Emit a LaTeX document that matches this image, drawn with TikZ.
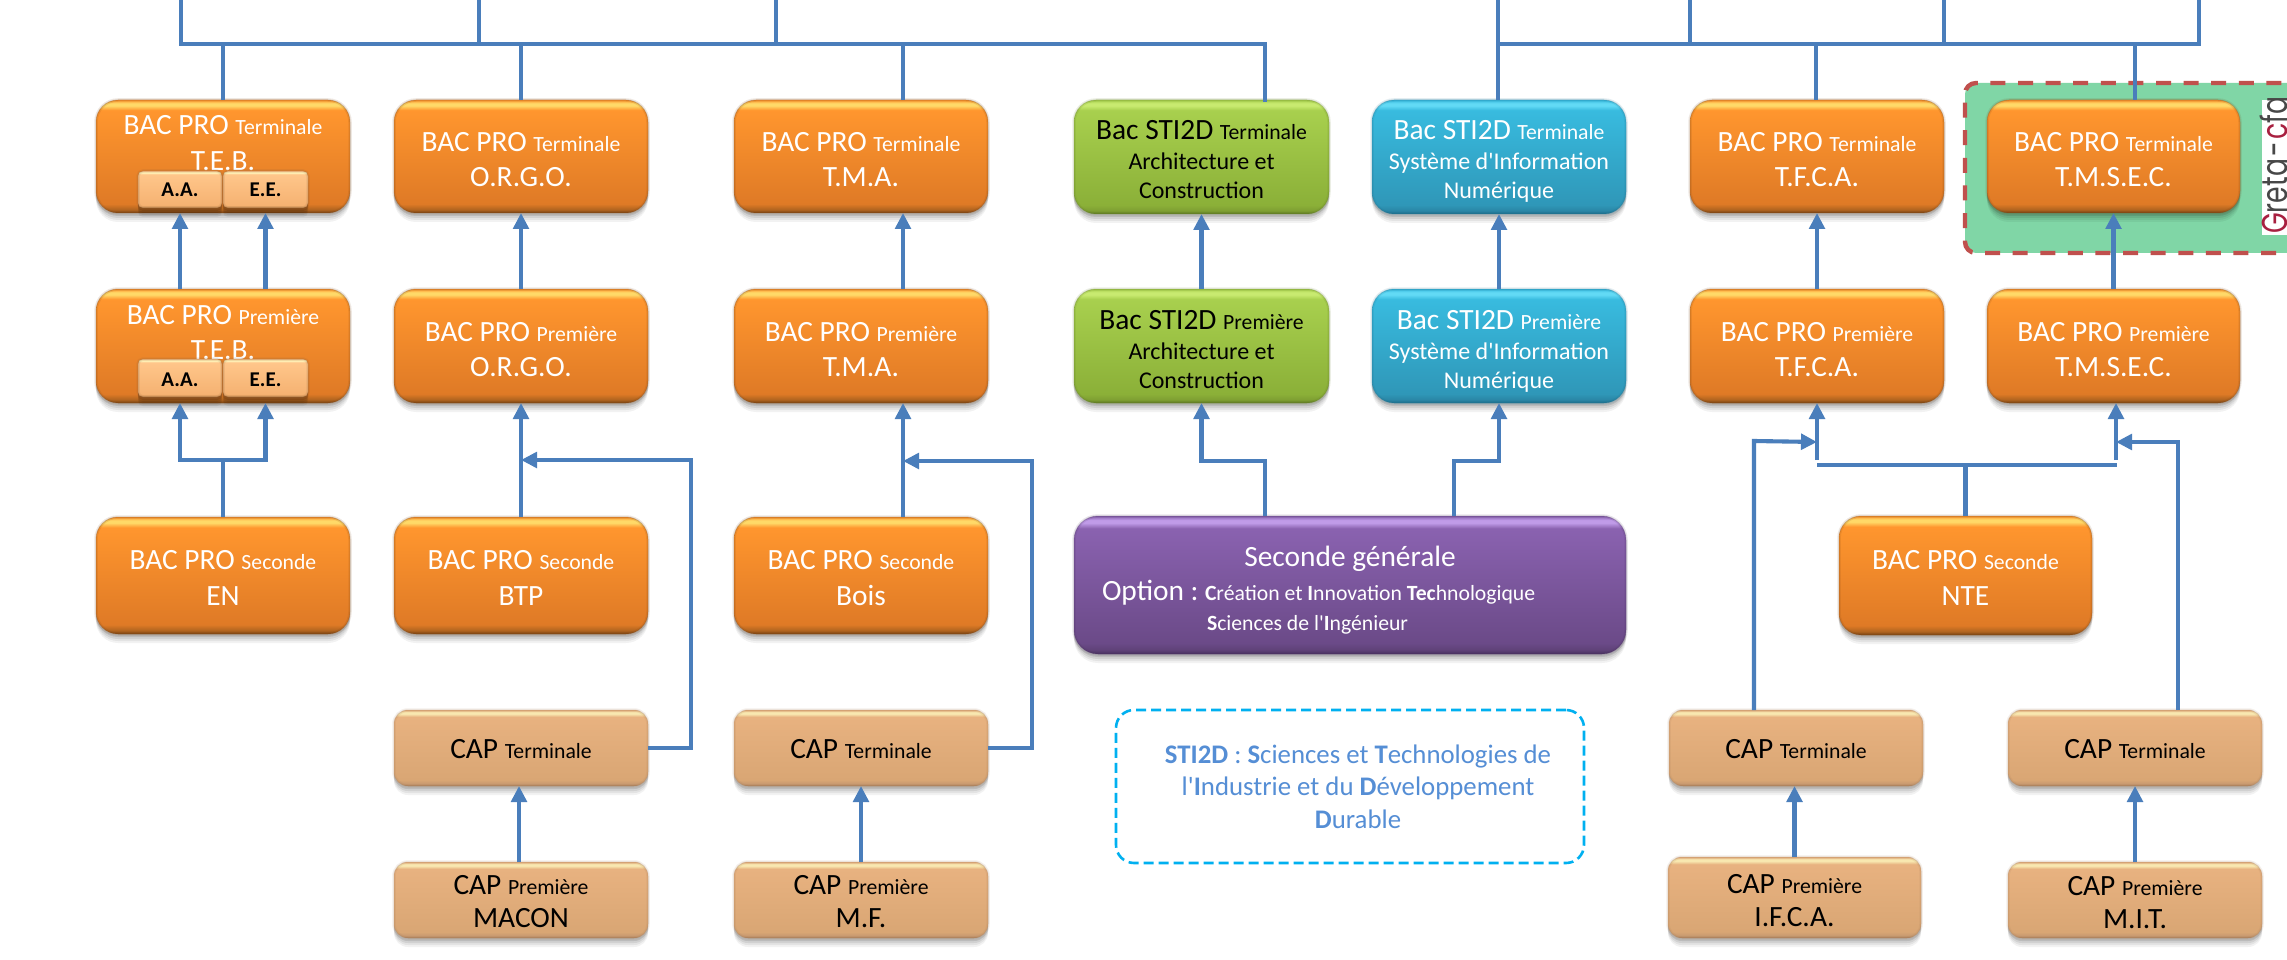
\documentclass[tikz,border=0pt]{standalone}
\usepackage{fontspec}
\setmainfont{Carlito}[Ligatures=TeXOff]
\newfontfamily\logofont{Poppins}
\usetikzlibrary{arrows.meta,calc}
\definecolor{lineblue}{HTML}{4A7EBB}
\definecolor{dashred}{HTML}{C0504D}
\definecolor{panel}{HTML}{80D6A6}
\definecolor{cyandash}{HTML}{00B0F0}
\definecolor{noteblue}{HTML}{558ED5}
\definecolor{logored}{HTML}{A82040}
\newcommand\mkshade[6]{%
 \definecolor{#1a}{HTML}{#2}\definecolor{#1b}{HTML}{#3}\definecolor{#1c}{HTML}{#4}\definecolor{#1d}{HTML}{#5}\definecolor{#1e}{HTML}{#6}%
 \pgfdeclareverticalshading{#1}{100bp}{color(0bp)=(#1a);color(25bp)=(#1a);color(26.5bp)=(#1b);color(29bp)=(#1c);color(70.5bp)=(#1d);color(72.5bp)=(#1e);color(73.5bp)=(#1e);color(75bp)=(#1d);color(100bp)=(#1d)}}
\mkshade{orangeb}{7A4414}{B0641F}{DF7A26}{FF962E}{FFD968}
\mkshade{greenb}{5F7A24}{7F9F32}{8BB038}{A8D04E}{C8EA70}
\mkshade{blueb}{1F6F8C}{2A86A6}{2F97B8}{38BBDF}{62DAF5}
\mkshade{purpleb}{4A3260}{5F4278}{6B4A88}{8A62B0}{C09BE8}
\mkshade{peachb}{A57C58}{C89A70}{D9A674}{E8B280}{F8E8B0}
\mkshade{tabb}{8A5F38}{E0A060}{F5B272}{FFC68A}{FFF2B8}
\tikzset{
 softshadow/.style={
  preaction={fill=black,fill opacity=.05,transform canvas={yshift=-9pt}},
  preaction={fill=black,fill opacity=.06,transform canvas={yshift=-7pt}},
  preaction={fill=black,fill opacity=.08,transform canvas={yshift=-5pt}},
  preaction={fill=black,fill opacity=.10,transform canvas={yshift=-3pt}}},
 basebox/.style={softshadow,anchor=north west,inner sep=0pt,outer sep=0pt,rectangle,line width=1pt,draw opacity=.28},
 rim/.style={postaction={draw=#1,draw opacity=.12,line width=3.5pt}},
 orangebox/.style={basebox,rounded corners=22pt,shading=orangeb,draw=orangeba,rim=orangeba},
 greenbox/.style={basebox,rounded corners=22pt,shading=greenb,draw=greenba,rim=greenba},
 bluebox/.style={basebox,rounded corners=22pt,shading=blueb,draw=blueba,rim=blueba},
 purplebox/.style={basebox,rounded corners=24pt,shading=purpleb,draw=purpleba,rim=purpleba},
 capbox/.style={basebox,rounded corners=14pt,shading=peachb,draw=peachba,rim=peachba},
 tabbox/.style={basebox,rounded corners=5pt,shading=tabb,draw=tabba,rim=tabba},
 notebox/.style={anchor=north west,inner sep=0pt,outer sep=0pt,rectangle,rounded corners=18pt,draw=cyandash,line width=2.6pt,dash pattern=on 10pt off 5pt},
 panelbox/.style={anchor=north west,inner sep=0pt,outer sep=0pt,rectangle,rounded corners=11pt,fill=panel,draw=dashred,line width=4.4pt,dash pattern=on 15pt off 12.6pt},
 cx/.style={draw=lineblue,line width=4.1pt},
 arr/.style={cx,-{Triangle[length=16pt,width=15.5pt]}},
}
\newcommand\Bg{\fontsize{29.4}{31}\selectfont}
\newcommand\Sm{\fontsize{21.7}{24}\selectfont}
\newcommand\Md{\fontsize{24}{26}\selectfont}
\newcommand\Op{\fontsize{21.7}{24}\selectfont}
\newcommand\Nt{\fontsize{26.8}{29}\selectfont}
\newcommand\Lin[2]{\kern#1pt\hbox to \Wd pt{\hss\smash{#2}\hss}}
\newcommand\LinL[3]{\kern#1pt\hbox to \Wd pt{\kern#2pt\smash{#3}\hss}}
\newcommand\bx[8]{%
 \pgfmathsetmacro\Wd{#4-#2}\pgfmathsetmacro\Ht{#5-#3}%
 \node[#6,text=#7] (#1) at (#2,#3) {\vbox to \Ht pt{\hsize=\Wd pt\offinterlineskip\hbox to \Wd pt{}#8\vss}};}
\newcommand\TwoL[5]{\kern1.5pt\Lin{#1}{\Bg #3 \Sm #4}\Lin{#2}{\Bg #5}}
\begin{document}
\begin{tikzpicture}[x=1pt,y=-1pt]
\useasboundingbox (0,0) rectangle (2287,960);
\fill[white] (0,0) rectangle (2287,960);
\begin{scope}
\clip (0,0) rectangle (2287,960);
\bx{panel}{1965}{83}{2320}{253}{panelbox}{black}{}
\fill[white] (2262,100) rectangle (2287,235);
\node[rotate=90,anchor=base west,inner sep=0pt,text=black!72] (logo) at (2287.5,234) {\logofont\fontsize{36}{36}\selectfont\scalebox{.74}[1]{\textcolor{logored}{G}reta\kern3pt-\kern3pt\textcolor{logored}{c}fa}};
\end{scope}
% BAC PRO columns
\bx{tebT}{96}{100}{350}{213}{orangebox}{white}{\TwoL{33}{36}{BAC PRO}{Terminale}{T.E.B.}}
\bx{tebP}{96}{289}{350}{403}{orangebox}{white}{\TwoL{34}{35}{BAC PRO}{Première}{T.E.B.}}
\bx{aaT}{138}{171}{222}{208}{tabbox}{black}{\Lin{26}{\fontsize{21}{23}\selectfont\bfseries A.A.}}
\bx{eeT}{223}{171}{308}{208}{tabbox}{black}{\Lin{26}{\fontsize{21}{23}\selectfont\bfseries E.E.}}
\bx{aaP}{138}{359}{222}{397}{tabbox}{black}{\Lin{27}{\fontsize{21}{23}\selectfont\bfseries A.A.}}
\bx{eeP}{223}{359}{308}{397}{tabbox}{black}{\Lin{27}{\fontsize{21}{23}\selectfont\bfseries E.E.}}
\bx{enS}{96}{517}{350}{634}{orangebox}{white}{\TwoL{51}{36}{BAC PRO}{Seconde}{EN}}
\bx{orgoT}{394}{100}{648}{213}{orangebox}{white}{\TwoL{50}{35}{BAC PRO}{Terminale}{O.R.G.O.}}
\bx{orgoP}{394}{289}{648}{403}{orangebox}{white}{\TwoL{51}{35}{BAC PRO}{Première}{O.R.G.O.}}
\bx{btpS}{394}{517}{648}{634}{orangebox}{white}{\TwoL{51}{36}{BAC PRO}{Seconde}{BTP}}
\bx{tmaT}{734}{100}{988}{213}{orangebox}{white}{\TwoL{50}{35}{BAC PRO}{Terminale}{T.M.A.}}
\bx{tmaP}{734}{289}{988}{403}{orangebox}{white}{\TwoL{51}{35}{BAC PRO}{Première}{T.M.A.}}
\bx{boisS}{734}{517}{988}{634}{orangebox}{white}{\TwoL{51}{36}{BAC PRO}{Seconde}{Bois}}
% STI2D
\bx{gT}{1074}{100}{1329}{214}{greenbox}{black}{\Lin{40}{\Bg Bac STI2D \Sm Terminale}\Lin{30}{\Md Architecture et}\Lin{29}{\Md Construction}}
\bx{gP}{1074}{289}{1329}{403}{greenbox}{black}{\Lin{40}{\Bg Bac STI2D \Sm Première}\Lin{30}{\Md Architecture et}\Lin{29}{\Md Construction}}
\bx{bT}{1372}{100}{1626}{214}{bluebox}{white}{\Lin{40}{\Bg Bac STI2D \Sm Terminale}\Lin{30}{\Md Système d'Information}\Lin{29}{\Md Numérique}}
\bx{bP}{1372}{289}{1626}{403}{bluebox}{white}{\Lin{40}{\Bg Bac STI2D \Sm Première}\Lin{30}{\Md Système d'Information}\Lin{29}{\Md Numérique}}
\bx{pu}{1074}{516}{1626}{654}{purplebox}{white}{\Lin{50}{\Bg Seconde générale}\LinL{34}{28}{\rlap{\Bg Option :}\kern103pt\Op\textbf{C}réation et \textbf{I}nnovation \textbf{Tec}hnologique}\LinL{30}{133}{\Op\textbf{S}ciences de l'\textbf{I}ngénieur}}
\bx{note}{1116}{710}{1584}{863}{notebox}{noteblue}{\Lin{53}{\kern16pt\Nt\textbf{STI2D} : \textbf{S}ciences et \textbf{T}echnologies de}\Lin{32}{\kern16pt\Nt l'\textbf{I}ndustrie et du \textbf{D}éveloppement}\Lin{33}{\kern16pt\Nt\textbf{D}urable}}
% right columns
\bx{tfT}{1690}{100}{1944}{213}{orangebox}{white}{\TwoL{50}{35}{BAC PRO}{Terminale}{T.F.C.A.}}
\bx{tfP}{1690}{289}{1944}{403}{orangebox}{white}{\TwoL{51}{35}{BAC PRO}{Première}{T.F.C.A.}}
\bx{tmT}{1987}{100}{2240}{213}{orangebox}{white}{\TwoL{50}{35}{BAC PRO}{Terminale}{T.M.S.E.C.}}
\bx{tmP}{1987}{289}{2240}{403}{orangebox}{white}{\TwoL{51}{35}{BAC PRO}{Première}{T.M.S.E.C.}}
\bx{nte}{1839}{516}{2092}{635}{orangebox}{white}{\TwoL{52}{36}{BAC PRO}{Seconde}{NTE}}
% CAP
\bx{capT1}{394}{710}{648}{786}{capbox}{black}{\Lin{48}{\Bg CAP \Sm Terminale}}
\bx{capP1}{394}{862}{648}{938}{capbox}{black}{\Lin{32}{\Bg CAP \Sm Première}\Lin{33}{\Bg MACON}}
\bx{capT2}{734}{710}{988}{786}{capbox}{black}{\Lin{48}{\Bg CAP \Sm Terminale}}
\bx{capP2}{734}{862}{988}{938}{capbox}{black}{\Lin{32}{\Bg CAP \Sm Première}\Lin{33}{\Bg M.F.}}
\bx{capT3}{1669}{710}{1923}{786}{capbox}{black}{\Lin{48}{\Bg CAP \Sm Terminale}}
\bx{capP3}{1668}{857}{1921}{938}{capbox}{black}{\Lin{36}{\Bg CAP \Sm Première}\Lin{33}{\Bg I.F.C.A.}}
\bx{capT4}{2008}{710}{2262}{786}{capbox}{black}{\Lin{48}{\Bg CAP \Sm Terminale}}
\bx{capP4}{2008}{862}{2262}{938}{capbox}{black}{\Lin{33}{\Bg CAP \Sm Première}\Lin{33}{\Bg M.I.T.}}
% named free ends
\foreach \nm/\xx in {a/181,b/479,c/776,d/1265,e/1498,f/1690,g/1944,h/2199}{
 \coordinate (up\nm) at (\xx,0);
 \coordinate (bus\nm) at (\xx,44);
}
\coordinate (sTma) at (903,0);
\coordinate (sTmse) at (2135,0);
\coordinate (sTf) at (1816,0);
\foreach \nm in {a,b,c,e,f,g,h}{\draw[cx] (up\nm) -- (bus\nm);}
\draw[cx,line cap=rect] (busa) -- (busd) -- (busd |- gT.north);
\draw[cx,line cap=rect] (buse) -- (bush);
\draw[cx] (busa -| tebT.north) -- (tebT.north);
\draw[cx] (busa -| orgoT.north) -- (orgoT.north);
\draw[cx] (busa -| sTma) -- (sTma |- tmaT.north);
\draw[cx] (buse) -- (buse |- bT.north);
\draw[cx] (buse -| sTf) -- (sTf |- tfT.north);
\draw[cx] (buse -| sTmse) -- (sTmse |- tmT.north);
% first to terminal
\draw[arr] (aaT |- tebP.north) -- (aaT |- tebT.south);
\draw[arr] (eeT |- tebP.north) -- (eeT |- tebT.south);
\draw[arr] (orgoP.north) -- (orgoT.south);
\draw[arr] (sTma |- tmaP.north) -- (sTma |- tmaT.south);
\draw[arr] (gP.north) -- (gT.south);
\draw[arr] (bP.north) -- (bT.south);
\draw[arr] (tfP.north) -- (tfT.south);
\draw[arr] (tmP.north) -- (tmT.south);
% second to first
\coordinate (jteb) at (223,460);
\draw[cx] (enS.north) -- (jteb);
\draw[arr] (jteb) -| (aaP |- tebP.south);
\draw[arr] (jteb) -| (eeP |- tebP.south);
\draw[arr] (btpS.north) -- (orgoP.south);
\draw[arr] (sTma |- boisS.north) -- (sTma |- tmaP.south);
% CAP links
\coordinate (c1) at (691,460);
\coordinate (c2) at (1032,461);
\draw[arr] (capT1.east) -| (c1) -- (orgoP.south |- c1);
\draw[arr] (capT2.east) -| (c2) -- (sTma |- c2);
\draw[arr] ([xshift=-2pt]capP1.north) -- ([xshift=-2pt]capT1.south);
\draw[arr] (capP2.north) -- (capT2.south);
\draw[arr] (capP3.north) -- (capP3.north |- capT3.south);
\draw[arr] (capP4.north) -- (capT4.south);
% general second
\coordinate (k1) at (1265,461);
\coordinate (k2) at (1454,461);
\draw[arr] (k1 |- pu.north) -- (k1) -- (k1 -| gP.south) -- (gP.south);
\draw[arr] (k2 |- pu.north) -- (k2) -- (k2 -| bP.south) -- (bP.south);
% NTE
\coordinate (nj) at (1965,465);
\coordinate (n1) at (1817,465);
\coordinate (n2) at (2117,465);
\coordinate (v1) at (1817,460);
\coordinate (v2) at (2116,460);
\draw[cx] (nte.north) -- (nte.north |- nj);
\draw[cx] (n1) -- (n2);
\draw[arr] (v1) -- (v1 |- tfP.south);
\draw[arr] (v2) -- (v2 |- tmP.south);
\coordinate (s1) at (1754,441);
\coordinate (s2) at (2178,442);
\draw[arr] (s1 |- capT3.north) -- (s1) -- (v1 |- 0,442);
\draw[arr] (s2 |- capT4.north) -- (s2) -- (v2 |- s2);
\end{tikzpicture}
\end{document}
